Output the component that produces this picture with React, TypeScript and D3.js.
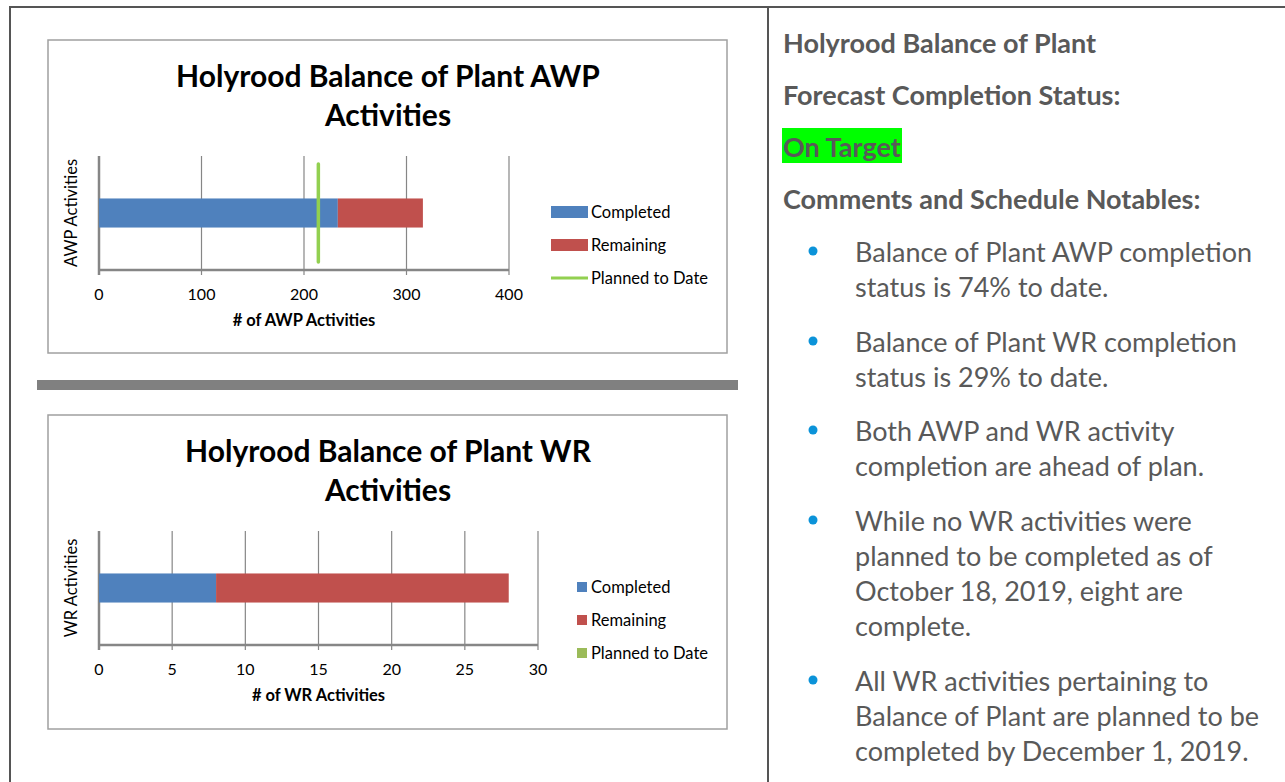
import React from 'react';
import * as d3 from 'd3';

// chart values
const awpCategories = ['AWP Activities'];
const awpCompleted = [233];
const awpRemaining = [83];
const awpPlanned = [214];
const awpTicks = [0, 100, 200, 300, 400];

const wrCategories = ['WR Activities'];
const wrCompleted = [8];
const wrRemaining = [20];
const wrPlanned = [0];
const wrTicks = [0, 5, 10, 15, 20, 25, 30];

const legendLabels = ['Completed', 'Remaining', 'Planned to Date'];

const headerLines = ['Holyrood Balance of Plant', 'Forecast Completion Status:'];
const statusLabel = 'On Target';
const notesHeader = 'Comments and Schedule Notables:';
const bulletItems = [
  ['Balance of Plant AWP completion', 'status is 74% to date.'],
  ['Balance of Plant WR completion', 'status is 29% to date.'],
  ['Both AWP and WR activity', 'completion are ahead of plan.'],
  ['While no WR activities were', 'planned to be completed as of', 'October 18, 2019, eight are', 'complete.'],
  ['All WR activities pertaining to', 'Balance of Plant are planned to be', 'completed by December 1, 2019.'],
];

const COLORS = { completed: '#4f81bd', remaining: '#c0504d', planned: '#92d050', plannedSwatch: '#9bbb59' };
const FONT = 'Lato, "Open Sans", sans-serif';
const GRID = '#868686';

type PanelProps = {
  x: number;
  y: number;
  h: number;
  title: string[];
  categories: string[];
  completed: number[];
  remaining: number[];
  planned: number[];
  ticks: number[];
  plotRight: number;
  xTitle: string;
  lineLegend: boolean;
};

const BarPanel = (p: PanelProps) => {
  const plotLeft = 51;
  const plotTop = 116;
  const plotBottom = 230;
  const xScale = d3
    .scaleLinear()
    .domain([0, p.ticks[p.ticks.length - 1]])
    .range([plotLeft, p.plotRight]);
  const yScale = d3.scaleBand().domain(p.categories).range([plotTop, plotBottom]).padding(0);
  const bw = yScale.bandwidth();
  const barH = bw * 0.255;
  const midX = (plotLeft + p.plotRight) / 2;
  const midY = (plotTop + plotBottom) / 2;

  return (
    <g transform={`translate(${p.x},${p.y})`}>
      <rect x={0} y={0} width={679} height={p.h} fill="#fff" stroke="#a0a0a0" strokeWidth={1.5} />
      {p.title.map((t, i) => (
        <text key={t} x={340} y={35 + i * 39} textAnchor="middle" dominantBaseline="central"
          fontFamily={FONT} fontWeight={700} fontSize={30} fill="#000">{t}</text>
      ))}
      {/* gridlines */}
      {p.ticks.map(t => (
        <line key={'g' + t} x1={xScale(t)} x2={xScale(t)} y1={plotTop} y2={plotBottom + 5}
          stroke={GRID} strokeWidth={t === 0 ? 2.5 : 1.2} />
      ))}
      {/* bars */}
      {p.categories.map((c, i) => {
        const by = (yScale(c) as number) + bw / 2 - barH / 2;
        return (
          <g key={c}>
            <rect x={xScale(0)} y={by} width={xScale(p.completed[i]) - xScale(0)} height={barH} fill={COLORS.completed} />
            <rect x={xScale(p.completed[i])} y={by}
              width={xScale(p.completed[i] + p.remaining[i]) - xScale(p.completed[i])} height={barH} fill={COLORS.remaining} />
            {p.planned[i] > 0 && (
              <line x1={xScale(p.planned[i])} x2={xScale(p.planned[i])}
                y1={(yScale(c) as number) + bw * 0.07} y2={(yScale(c) as number) + bw * 0.93}
                stroke={COLORS.planned} strokeWidth={3.5} strokeLinecap="round" />
            )}
          </g>
        );
      })}
      <line x1={plotLeft} x2={p.plotRight} y1={plotBottom} y2={plotBottom} stroke={GRID} strokeWidth={2.5} />
      {p.ticks.map(t => (
        <text key={'t' + t} x={xScale(t)} y={plotBottom + 23} textAnchor="middle" dominantBaseline="central"
          fontFamily={FONT} fontSize={16} fill="#000">{t}</text>
      ))}
      <text x={midX} y={plotBottom + 50} textAnchor="middle" dominantBaseline="central"
        fontFamily={FONT} fontWeight={700} fontSize={16.5} fill="#000">{p.xTitle}</text>
      <text transform={`translate(${23},${midY}) rotate(-90)`} textAnchor="middle" dominantBaseline="central"
        fontFamily={FONT} fontSize={16.5} fill="#000">{p.categories[0]}</text>
      {/* legend */}
      {legendLabels.map((l, i) => {
        const ly = 172 + i * 33;
        const col = [COLORS.completed, COLORS.remaining, p.lineLegend ? COLORS.planned : COLORS.plannedSwatch][i];
        return (
          <g key={l}>
            {p.lineLegend ? (
              i < 2 ? (
                <rect x={503} y={ly - 6} width={37} height={12} fill={col} />
              ) : (
                <line x1={503} x2={540} y1={ly} y2={ly} stroke={col} strokeWidth={3} />
              )
            ) : (
              <rect x={529} y={ly - 5} width={10} height={10} fill={col} />
            )}
            <text x={543} y={ly} dominantBaseline="central" fontFamily={FONT} fontSize={16.5} fill="#000">{l}</text>
          </g>
        );
      })}
    </g>
  );
};

export default function App() {
  const textX = 783;
  const bodyFont = 27;
  const headFont = 27;
  const itemStarts = [251, 341, 430, 520, 680];
  return (
    <svg width={1285} height={782} style={{ position: 'absolute', left: 0, top: 0, background: '#fff' }}>
      <rect x={0} y={0} width={1285} height={782} fill="#fff" />
      {/* table borders */}
      <line x1={10} x2={1285} y1={7} y2={7} stroke="#555" strokeWidth={2} />
      <line x1={10} x2={10} y1={6} y2={782} stroke="#555" strokeWidth={2} />
      <line x1={768} x2={768} y1={6} y2={782} stroke="#555" strokeWidth={2} />

      <BarPanel x={48} y={40} h={313} title={['Holyrood Balance of Plant AWP', 'Activities']}
        categories={awpCategories} completed={awpCompleted} remaining={awpRemaining} planned={awpPlanned}
        ticks={awpTicks} plotRight={461} xTitle="# of AWP Activities" lineLegend={true} />

      <rect x={37} y={380} width={701} height={10} fill="#808080" />

      <BarPanel x={48} y={415} h={314} title={['Holyrood Balance of Plant WR', 'Activities']}
        categories={wrCategories} completed={wrCompleted} remaining={wrRemaining} planned={wrPlanned}
        ticks={wrTicks} plotRight={490} xTitle="# of WR Activities" lineLegend={false} />

      {/* right column */}
      {headerLines.map((t, i) => (
        <text key={t} x={textX} y={42 + i * 52} dominantBaseline="central" fontFamily={FONT}
          fontWeight={700} fontSize={headFont} fill="#595959">{t}</text>
      ))}
      <rect x={782} y={128} width={120} height={35} fill="#00ff00" />
      <text x={textX} y={146} dominantBaseline="central" fontFamily={FONT} fontWeight={700} fontSize={headFont}
        fill="#595959">{statusLabel}</text>
      <text x={textX} y={198} dominantBaseline="central" fontFamily={FONT} fontWeight={700} fontSize={headFont}
        fill="#595959">{notesHeader}</text>
      {bulletItems.map((lines, i) => (
        <g key={i}>
          <circle cx={813} cy={itemStarts[i]} r={4.5} fill="#0b93d9" />
          {lines.map((l, j) => (
            <text key={j} x={855} y={itemStarts[i] + j * 35} dominantBaseline="central" fontFamily={FONT}
              fontSize={bodyFont} fill="#595959">{l}</text>
          ))}
        </g>
      ))}
    </svg>
  );
}
